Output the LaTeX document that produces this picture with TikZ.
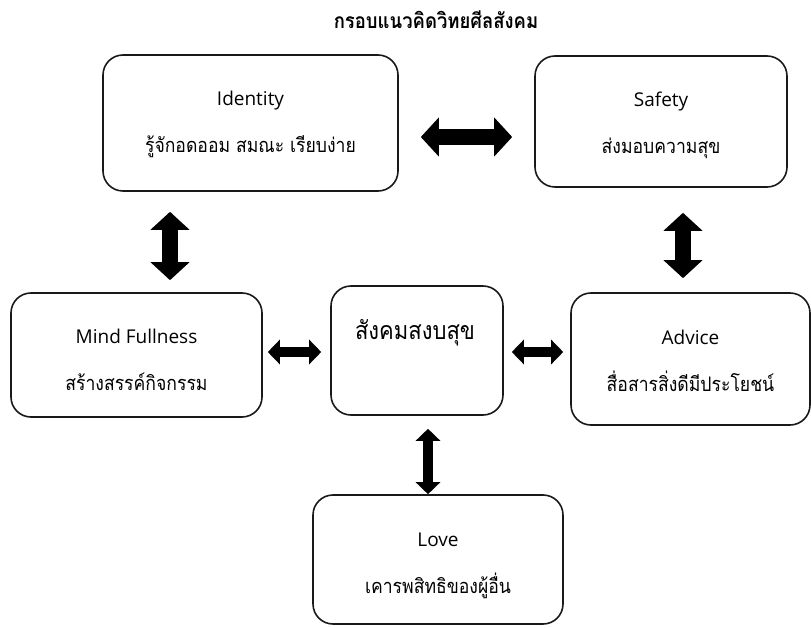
\documentclass[tikz,border=0pt]{standalone}
\usepackage{fontspec}
\setmainfont[Script=Thai,FakeStretch=0.88]{Loma}
\newfontfamily\latin{Open Sans}
\usetikzlibrary{arrows.meta,calc}
\tikzset{
  box/.style={draw=black!90, line width=1.6pt, rounded corners=20pt, inner sep=0pt},
  txt/.style={align=center, font=\fontsize{20}{23}\selectfont, inner sep=0pt},
  bigarr/.style={line width=16pt, {Triangle[width=38pt,length=18pt]}-{Triangle[width=38pt,length=18pt]}},
  smallarr/.style={line width=10pt, {Triangle[width=24pt,length=12pt]}-{Triangle[width=24pt,length=12pt]}},
  ttl/.style={font=\fontsize{21}{24}\selectfont\bfseries}
}
\newcommand\lat[1]{{\latin\fontsize{19}{23}\selectfont #1}}
\begin{document}
\begin{tikzpicture}[x=1pt,y=-1pt]
\useasboundingbox (0,0) rectangle (811,628);
\node[ttl] (title) at (436,20) {กรอบแนวคิดวิทยศีลสังคม};
\node[box, minimum width=295pt, minimum height=136pt] (id) at (250.5,123) {};
\node[txt] (idtxt) at ($(id.center)+(0,1)$) {\lat{Identity}\\[24pt]รู้จักอดออม สมณะ เรียบง่าย};
\node[box, minimum width=252pt, minimum height=131pt] (sf) at (661,121.5) {};
\node[txt] (sftxt) at ($(sf.center)+(0,3.5)$) {\lat{Safety}\\[24pt]ส่งมอบความสุข};
\node[box, minimum width=251pt, minimum height=124pt] (mind) at (136.5,355) {};
\node[txt] (mindtxt) at ($(mind.center)+(0,5)$) {\lat{Mind Fullness}\\[24pt]สร้างสรรค์กิจกรรม};
\node[box, minimum width=172pt, minimum height=129pt] (cen) at (417,350.5) {};
\node[font=\fontsize{25}{29}\selectfont] (centxt) at (415,333) {สังคมสงบสุข};
\node[box, minimum width=239pt, minimum height=132pt] (adv) at (690.5,359) {};
\node[txt] (advtxt) at ($(adv.center)+(0,2)$) {\lat{Advice}\\[24pt]สื่อสารสิ่งดีมีประโยชน์};
\node[box, minimum width=250pt, minimum height=129pt] (love) at (438,559.5) {};
\node[txt] (lovetxt) at ($(love.center)+(0,6)$) {\lat{Love}\\[24pt]เคารพสิทธิของผู้อื่น};
\draw[bigarr] ($(id.east)+(22,14)$) -- ($(sf.west)+(-22,15.5)$);
\draw[bigarr] ($(id.south)+(-80.5,20)$) -- ($(mind.north)+(33.5,-12)$);
\draw[bigarr] ($(sf.south)+(22,25)$) -- ($(adv.north)+(-7.5,-14)$);
\draw[smallarr] ($(mind.east)+(5,-3)$) -- ($(cen.west)+(-9,1.5)$);
\draw[smallarr] ($(cen.east)+(8,1.5)$) -- ($(adv.west)+(-7,-7)$);
\draw[smallarr] ($(cen.south)+(11,13)$) -- ($(love.north)+(-10,0)$);
\end{tikzpicture}
\end{document}
